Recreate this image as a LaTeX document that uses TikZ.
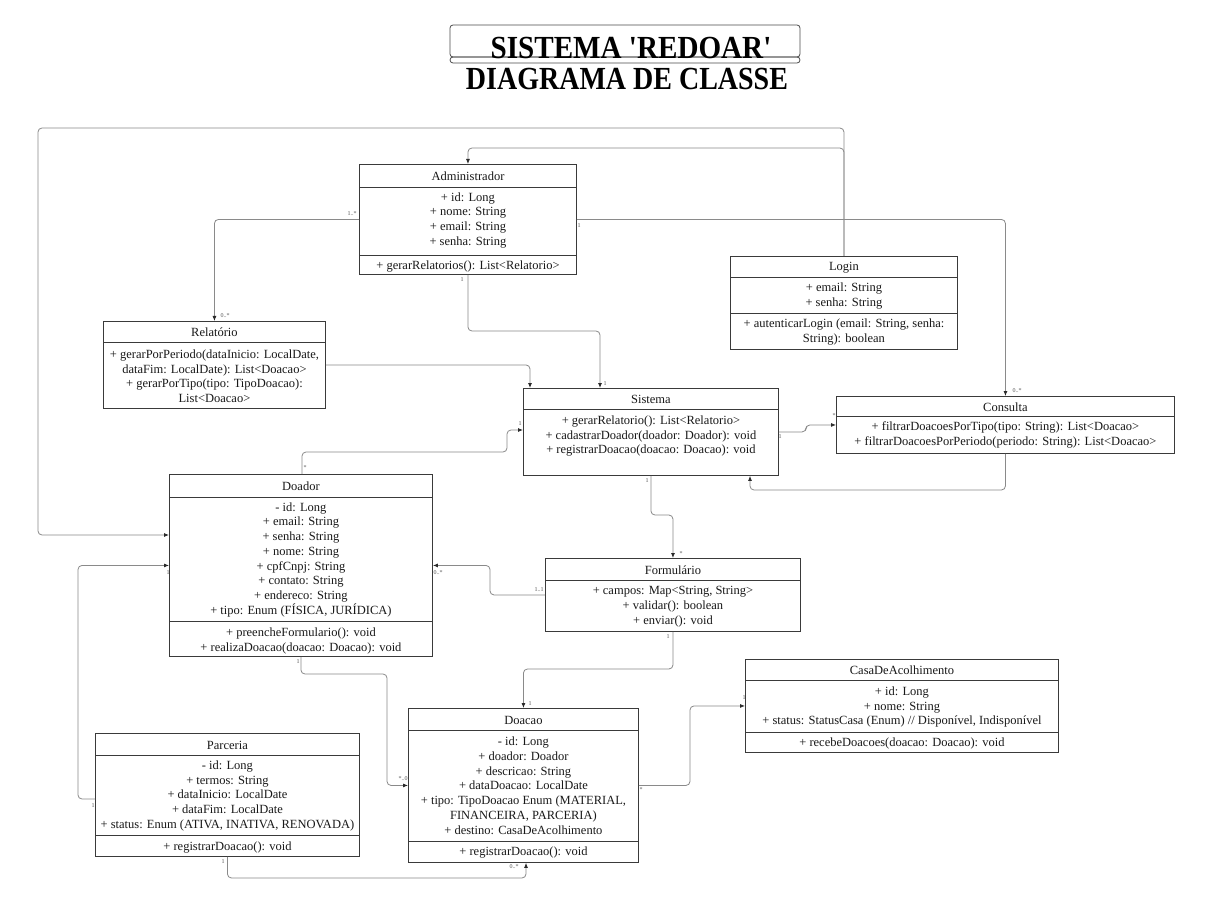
\documentclass[tikz,border=0pt]{standalone}
\usepackage{fontspec}
\setmainfont{Liberation Serif}
\usepackage{graphicx}
\usetikzlibrary{arrows.meta,calc}
\definecolor{boxc}{HTML}{3A3A3A}
\definecolor{connc}{HTML}{8A8A8A}
\definecolor{multc}{HTML}{555555}
\definecolor{titc}{HTML}{4A4A4A}
\definecolor{tipc}{HTML}{2A2A2A}
\tikzset{
  cls/.style={draw=boxc, line width=0.9pt, fill=white, inner sep=0pt, anchor=north west},
  sepl/.style={draw=boxc, line width=0.9pt},
  txt/.style={font=\fontsize{12.5}{14.7}\selectfont, align=center, inner sep=0pt, text=black!90, yshift=-1.2pt},
  conn/.style={draw=connc, line width=0.8pt, rounded corners=4pt, -{Latex[length=5pt,width=4pt,color=tipc]}},
  mult/.style={font=\fontsize{6}{7}\selectfont, text=multc, inner sep=0pt},
  titlebox/.style={draw=titc, line width=0.8pt, rounded corners=3pt},
  titletxt/.style={inner sep=0pt, text=black},
}
\begin{document}
\begin{tikzpicture}[x=1pt,y=-1pt]
\useasboundingbox[fill=white] (0,0) rectangle (1211,912);

% ---------- title ----------
\draw[titlebox] (450,25) rectangle (800,57);
\draw[titlebox] (450,57) rectangle (800,63);
\node[titletxt] (t1) at (631,47.5) {\scalebox{1.04}[1.15]{\fontsize{28}{30}\selectfont\bfseries SISTEMA \textquotesingle REDOAR\textquotesingle}};
\node[titletxt] (t2) at (627,79) {\scalebox{1}[1.15]{\fontsize{28}{30}\selectfont\bfseries DIAGRAMA DE CLASSE}};

% ---------- Administrador ----------
\node[cls, minimum width=217pt, minimum height=110pt] (adm) at (359,164) {};
\draw[sepl] (adm.west |- 0,187) -- (adm.east |- 0,187);
\draw[sepl] (adm.west |- 0,255) -- (adm.east |- 0,255);
\node[txt] (admh) at (adm.north |- 0,175.5) {Administrador};
\node[txt] (adma) at (adm.north |- 0,219) {+ id: Long\\+ nome: String\\+ email: String\\+ senha: String};
\node[txt] (admm) at (adm.north |- 0,265) {+ gerarRelatorios(): List<Relatorio>};

% ---------- Login ----------
\node[cls, minimum width=227pt, minimum height=93pt] (login) at (730,256) {};
\draw[sepl] (login.west |- 0,277) -- (login.east |- 0,277);
\draw[sepl] (login.west |- 0,313) -- (login.east |- 0,313);
\node[txt] (loginh) at (login.north |- 0,266.5) {Login};
\node[txt] (logina) at (login.north |- 0,294.5) {+ email: String\\+ senha: String};
\node[txt] (loginm) at (login.north |- 0,331) {+ autenticarLogin (email: String, senha:\\String): boolean};

% ---------- Relatorio ----------
\node[cls, minimum width=222pt, minimum height=87pt] (rel) at (103,321) {};
\draw[sepl] (rel.west |- 0,342) -- (rel.east |- 0,342);
\node[txt] (relh) at (rel.north |- 0,331.5) {Relatório};
\node[txt] (relm) at (rel.north |- 0,375) {+ gerarPorPeriodo(dataInicio: LocalDate,\\dataFim: LocalDate): List<Doacao>\\+ gerarPorTipo(tipo: TipoDoacao):\\List<Doacao>};

% ---------- Sistema ----------
\node[cls, minimum width=255pt, minimum height=87pt] (sis) at (523,388) {};
\draw[sepl] (sis.west |- 0,409) -- (sis.east |- 0,409);
\node[txt] (sish) at (sis.north |- 0,398.5) {Sistema};
\node[txt] (sism) at (sis.north |- 0,435) {+ gerarRelatorio(): List<Relatorio>\\+ cadastrarDoador(doador: Doador): void\\+ registrarDoacao(doacao: Doacao): void};

% ---------- Consulta ----------
\node[cls, minimum width=338pt, minimum height=57pt] (cons) at (836,396) {};
\draw[sepl] (cons.west |- 0,416) -- (cons.east |- 0,416);
\node[txt] (consh) at (cons.north |- 0,406) {Consulta};
\node[txt] (consm) at (cons.north |- 0,434) {+ filtrarDoacoesPorTipo(tipo: String): List<Doacao>\\+ filtrarDoacoesPorPeriodo(periodo: String): List<Doacao>};

% ---------- Doador ----------
\node[cls, minimum width=263pt, minimum height=182pt] (doador) at (169,474) {};
\draw[sepl] (doador.west |- 0,497) -- (doador.east |- 0,497);
\draw[sepl] (doador.west |- 0,621) -- (doador.east |- 0,621);
\node[txt] (doadorh) at (doador.north |- 0,485.5) {Doador};
\node[txt] (doadora) at (doador.north |- 0,558.5) {- id: Long\\+ email: String\\+ senha: String\\+ nome: String\\+ cpfCnpj: String\\+ contato: String\\+ endereco: String\\+ tipo: Enum (FÍSICA, JURÍDICA)};
\node[txt] (doadorm) at (doador.north |- 0,639.5) {+ preencheFormulario(): void\\+ realizaDoacao(doacao: Doacao): void};

% ---------- Formulario ----------
\node[cls, minimum width=255pt, minimum height=73pt] (form) at (545,558) {};
\draw[sepl] (form.west |- 0,580) -- (form.east |- 0,580);
\node[txt] (formh) at (form.north |- 0,569) {Formulário};
\node[txt] (forma) at (form.north |- 0,605.5) {+ campos: Map<String, String>\\+ validar(): boolean\\+ enviar(): void};

% ---------- CasaDeAcolhimento ----------
\node[cls, minimum width=313pt, minimum height=93pt] (casa) at (745,659) {};
\draw[sepl] (casa.west |- 0,680) -- (casa.east |- 0,680);
\draw[sepl] (casa.west |- 0,732) -- (casa.east |- 0,732);
\node[txt] (casah) at (casa.north |- 0,669.5) {CasaDeAcolhimento};
\node[txt] (casaa) at (casa.north |- 0,706) {+ id: Long\\+ nome: String\\+ status: StatusCasa (Enum) // Disponível, Indisponível};
\node[txt] (casam) at (casa.north |- 0,742) {+ recebeDoacoes(doacao: Doacao): void};

% ---------- Doacao ----------
\node[cls, minimum width=230pt, minimum height=154pt] (doacao) at (408,708) {};
\draw[sepl] (doacao.west |- 0,730) -- (doacao.east |- 0,730);
\draw[sepl] (doacao.west |- 0,841) -- (doacao.east |- 0,841);
\node[txt] (doacaoh) at (doacao.north |- 0,719) {Doacao};
\node[txt] (doacaoa) at (doacao.north |- 0,784.5) {- id: Long\\+ doador: Doador\\+ descricao: String\\+ dataDoacao: LocalDate\\+ tipo: TipoDoacao Enum (MATERIAL,\\FINANCEIRA, PARCERIA)\\+ destino: CasaDeAcolhimento};
\node[txt] (doacaom) at (doacao.north |- 0,851) {+ registrarDoacao(): void};

% ---------- Parceria ----------
\node[cls, minimum width=264pt, minimum height=123pt] (parc) at (95,733) {};
\draw[sepl] (parc.west |- 0,755) -- (parc.east |- 0,755);
\draw[sepl] (parc.west |- 0,835) -- (parc.east |- 0,835);
\node[txt] (parch) at (parc.north |- 0,744) {Parceria};
\node[txt] (parca) at (parc.north |- 0,794.5) {- id: Long\\+ termos: String\\+ dataInicio: LocalDate\\+ dataFim: LocalDate\\+ status: Enum (ATIVA, INATIVA, RENOVADA)};
\node[txt] (parcm) at (parc.north |- 0,846) {+ registrarDoacao(): void};

% ---------- connectors ----------
% Login -> Administrador
\draw[conn] (login.north) -- (login.north |- 0,148) -- (adm.north |- 0,148) -- (adm.north);
% Login -> Doador
\draw[conn] (login.north) -- (login.north |- 0,128) -- (38,128) -- (38,535) -- (doador.west |- 0,535);
% Administrador -> Relatorio
\draw[conn] (adm.west) -| (rel.north);
% Administrador -> Consulta
\draw[conn] (adm.east) -| (cons.north);
% Administrador -> Sistema
\draw[conn] (adm.south) -- (adm.south |- 0,331) -| (600,0 |- sis.north);
% Relatorio -> Sistema
\draw[conn] (rel.east) -| (530,0 |- sis.north);
% Doador -> Sistema
\draw[conn] (302,0 |- doador.north) -- (302,452) -- (507,452) -- (507,430) -- (sis.west |- 0,430);
% Sistema -> Consulta
\draw[conn] (sis.east) -- (806,0 |- sis.east) -- (806,0 |- cons.west) -- (cons.west);
% Consulta -> Sistema
\draw[conn] (cons.south) -- (cons.south |- 0,490) -| (750,0 |- sis.south);
% Sistema -> Formulario
\draw[conn] (sis.south) -- (sis.south |- 0,515) -| (form.north);
% Formulario -> Doador
\draw[conn] (form.west) -- (490,0 |- form.west) |- (doador.east);
% Formulario -> Doacao
\draw[conn] (form.south) -- (form.south |- 0,669) -| (doacao.north);
% Doador -> Doacao
\draw[conn] (doador.south) -- (doador.south |- 0,674) -| (387,0 |- doacao.west) -- (doacao.west);
% Doacao -> CasaDeAcolhimento
\draw[conn] (doacao.east) -- (690,0 |- doacao.east) |- (casa.west);
% Parceria -> Doador
\draw[conn] (parc.west |- 0,799) -- (78,799) |- (doador.west);
% Parceria -> Doacao
\draw[conn] (parc.south) -- (parc.south |- 0,878) -| (526,0 |- doacao.south);

% ---------- multiplicities ----------
\node[mult] (m1) at (352,214) {1..*};
\node[mult] (m2) at (225,316) {0..*};
\node[mult] (m3) at (579,226) {1};
\node[mult] (m4) at (1017,391) {0..*};
\node[mult] (m5) at (462,280) {1};
\node[mult] (m6) at (605,384) {1};
\node[mult] (m7) at (305,468) {*};
\node[mult] (m8) at (520,424) {1};
\node[mult] (m9) at (780,437) {1};
\node[mult] (m10) at (834,416) {*};
\node[mult] (m11) at (647,481) {1};
\node[mult] (m12) at (681,554) {*};
\node[mult] (m13) at (539,590) {1..1};
\node[mult] (m14) at (438,573) {0..*};
\node[mult] (m15) at (668,637) {1};
\node[mult] (m16) at (530,704) {1};
\node[mult] (m17) at (298,662) {1};
\node[mult] (m18) at (403,779) {*..0};
\node[mult] (m19) at (641,790) {*};
\node[mult] (m20) at (744,698) {1};
\node[mult] (m21) at (93,806) {1};
\node[mult] (m22) at (168,573) {1};
\node[mult] (m23) at (223,862) {1};
\node[mult] (m24) at (514,867) {0..*};
\end{tikzpicture}
\end{document}
